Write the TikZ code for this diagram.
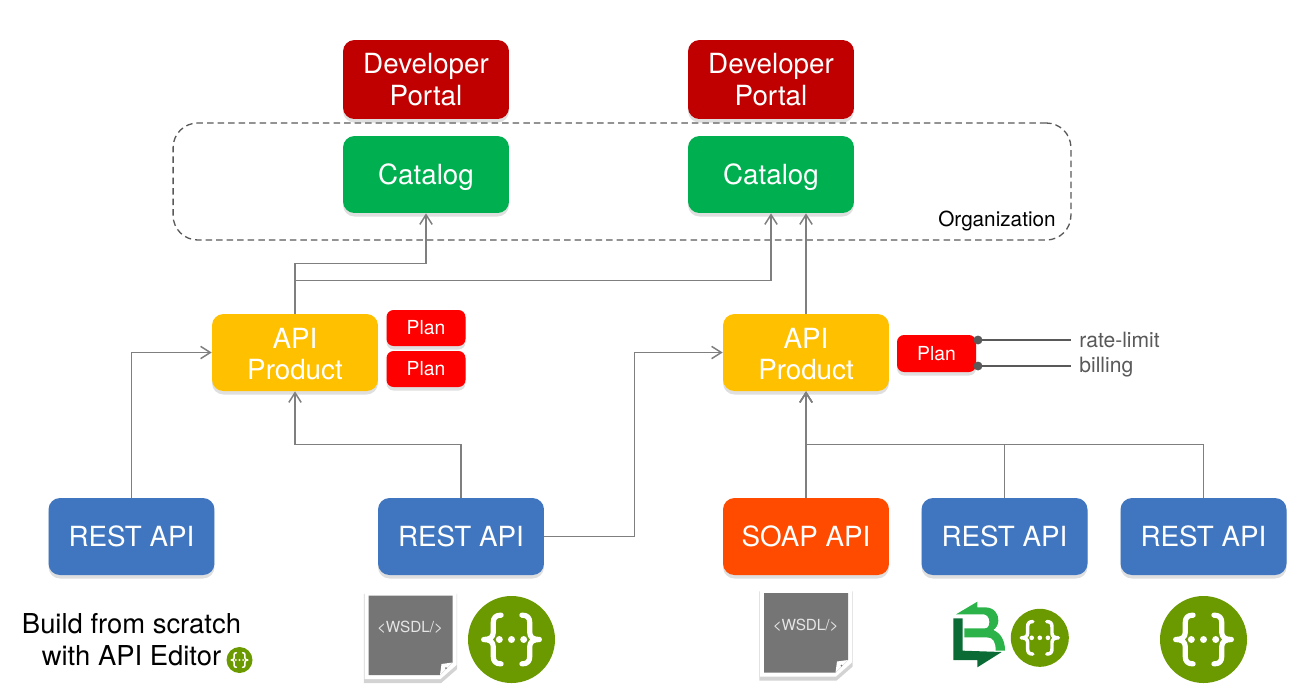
\documentclass[tikz,border=0pt]{standalone}
\usepackage{fontspec}
\usetikzlibrary{arrows.meta,shadows}
\setmainfont{TeX Gyre Heros}
\definecolor{portalred}{HTML}{C00000}
\definecolor{catgreen}{HTML}{00B050}
\definecolor{prodyellow}{HTML}{FFC000}
\definecolor{restblue}{HTML}{4076C0}
\definecolor{soaporange}{HTML}{FF4B00}
\definecolor{plainred}{HTML}{FF0000}
\definecolor{linegray}{HTML}{7F7F7F}
\definecolor{textgray}{HTML}{595959}
\definecolor{sheetgray}{HTML}{757575}
\definecolor{swagggreen}{HTML}{6B9A00}
\definecolor{logolight}{HTML}{2BB34A}
\definecolor{logodark}{HTML}{0A6B35}
\newcommand{\prodtop}{\rule{0pt}{13.5pt}}
\tikzset{
  boxbase/.style={rounded corners=6.5pt,text=white,align=center,inner sep=0pt,
    drop shadow={opacity=.25,shadow xshift=0pt,shadow yshift=-2pt}},
  bigbox/.style={boxbase,minimum width=3.32cm,minimum height=1.54cm,font=\fontsize{15.8}{18.6}\selectfont},
  prodbox/.style={bigbox,fill=prodyellow,font=\fontsize{15.8}{17.9}\selectfont},
  catbox/.style={bigbox,fill=catgreen,text depth=0pt},
  planbox/.style={boxbase,fill=plainred,rounded corners=4pt,minimum width=1.58cm,minimum height=.72cm,font=\fontsize{11}{13}\selectfont},
  link/.style={draw=linegray,line width=.85pt,-{Straight Barb[length=5.5pt,width=7pt]}},
  limitline/.style={draw=textgray,line width=.8pt,{Circle[length=5pt]}-},
  limittext/.style={text=textgray,anchor=west,inner sep=0pt,font=\fontsize{12}{14}\selectfont},
  wsdltext/.style={text=white!90!black,inner sep=0pt,font=\fontsize{8.7}{10}\selectfont},
  pics/swagger/.style={code={
    \begin{scope}[scale=#1]
    \fill[swagggreen] (0,0) circle (1);
    \draw[white,line width=#1*.0024cm,line cap=round,line join=round]
      (-.24,-.56) .. controls (-.37,-.56) and (-.42,-.5) .. (-.42,-.38) -- (-.42,-.16)
      .. controls (-.42,-.05) and (-.5,0) .. (-.64,0)
      .. controls (-.5,0) and (-.42,.05) .. (-.42,.16) -- (-.42,.38)
      .. controls (-.42,.5) and (-.37,.56) .. (-.24,.56)
      (.24,-.56) .. controls (.37,-.56) and (.42,-.5) .. (.42,-.38) -- (.42,-.16)
      .. controls (.42,-.05) and (.5,0) .. (.64,0)
      .. controls (.5,0) and (.42,.05) .. (.42,.16) -- (.42,.38)
      .. controls (.42,.5) and (.37,.56) .. (.24,.56);
    \foreach \dotx in {-.28,0,.28}
      \fill[white] (\dotx,0) circle (.08);
    \end{scope}
  }},
  pics/wsdlsheet/.style={code={
    \fill[white,drop shadow={opacity=.35,shadow scale=1.015,shadow xshift=0pt,shadow yshift=-2pt}]
      (-46,-44) -- (46,-44) -- (46,30) -- (30,44) -- (-46,44) -- cycle;
    \fill[sheetgray] (-42,-39.5) -- (42,-39.5) -- (42,27.5) -- (29.5,40) -- (-42,40) -- cycle;
    \fill[white] (42,27.5) -- (31,29) -- (29.5,40) -- cycle;
    \fill[sheetgray] (35.5,33) circle (1);
  }},
}
\begin{document}
\begin{tikzpicture}[x=0.02cm,y=-0.02cm]
  \useasboundingbox (0,0) rectangle (1297,697);
  % organization
  \node (orgbox) [draw=textgray,dash pattern=on 3.7pt off 2.3pt,line width=.75pt,rounded corners=14pt,minimum width=17.96cm,minimum height=2.34cm] at (622,181.5) {};
  \node (orglabel) [anchor=east,inner sep=0pt,font=\fontsize{11.8}{14}\selectfont] at (1056,221) {Organization};
  % portals and catalogs
  \node (portalA) [bigbox,fill=portalred,minimum height=1.58cm] at (426,79.5) {Developer\\Portal};
  \node (portalB) [bigbox,fill=portalred,minimum height=1.58cm] at (771,79.5) {Developer\\Portal};
  \node (catA) [catbox] at (426,174.5) {Catalog};
  \node (catB) [catbox] at (771,174.5) {Catalog};
  % products and plans
  \node (prodA) [prodbox] at (295,352.5) {\prodtop API\\Product};
  \node (prodB) [prodbox] at (806,352.5) {\prodtop API\\Product};
  \node (planA) [planbox] at (426,328) {Plan};
  \node (planB) [planbox] at (426,369) {Plan};
  \node (planC) [planbox,minimum height=.74cm] at (936.5,353.5) {Plan};
  % apis
  \node (restA) [bigbox,fill=restblue] at (131.5,536.5) {REST API};
  \node (restB) [bigbox,fill=restblue] at (461,536.5) {REST API};
  \node (soap) [bigbox,fill=soaporange] at (806,536.5) {SOAP API};
  \node (restC) [bigbox,fill=restblue] at (1004.5,536.5) {REST API};
  \node (restD) [bigbox,fill=restblue] at (1203.5,536.5) {REST API};
  % connectors
  \draw [link] (restA.north) |- (prodA.west);
  \draw [link] (restB.north) -- ++(0,-53) -| (prodA.south);
  \draw [link] (restB.east) -- ++(90,0) |- (prodB.west);
  \draw [link] (soap.north) -- (prodB.south);
  \draw [link] (restC.north) -- ++(0,-53) -| (prodB.south);
  \draw [link] (restD.north) -- ++(0,-53) -| (prodB.south);
  \draw [link] (prodA.north) -- ++(0,-50) -| (catA.south);
  \draw [link] (prodA.north) -- ++(0,-33) -| (catB.south);
  \draw [link] (prodB.north) -- (prodB.north |- catB.south);
  % plan limits
  \coordinate (dotA) at (973.6,340);
  \coordinate (dotB) at (973.6,366);
  \node (rate) [limittext] at (1079,340) {rate-limit};
  \node (bill) [limittext] at (1079,367) {billing};
  \draw [limitline] (dotA) -- (1071,340);
  \draw [limitline] (dotB) -- (1071,366);
  % sources
  \node (build) [align=center,inner sep=0pt,font=\fontsize{15.6}{18.2}\selectfont] at (131.5,640) {Build from scratch\\with API Editor};
  \pic at (239.5,660) {swagger=13};
  \pic at (410.5,635) {wsdlsheet};
  \node (wsdlA) [wsdltext] at (410,627.5) {<WSDL/>};
  \pic at (511.5,639.5) {swagger=43.5};
  \pic at (806,632.5) {wsdlsheet};
  \node (wsdlB) [wsdltext] at (805.7,625.5) {<WSDL/>};
  \pic at (1039.8,637.8) {swagger=29};
  \pic at (1203.5,639.5) {swagger=43.5};
  % logo
  \begin{scope}[shift={(930,580)},x=0.00667cm,y=-0.00667cm]
    \fill[logodark] (70,115) -- (98,115) -- (98,212) -- (215,216) -- (142,262) -- (142,240) -- (70,240) -- cycle;
    \fill[logolight] (78,103) -- (142,65) -- (142,82) -- (165,82) .. controls (195,82) and (206,105) .. (205,122) .. controls (205,135) and (197,145) .. (190,150) .. controls (212,160) and (225,180) .. (225,212) -- (197,212) .. controls (197,185) and (190,172) .. (170,172) -- (103,172) -- (103,145) -- (165,145) .. controls (175,145) and (178,135) .. (178,125) .. controls (178,112) and (170,103) .. (160,103) -- cycle;
  \end{scope}
\end{tikzpicture}
\end{document}
